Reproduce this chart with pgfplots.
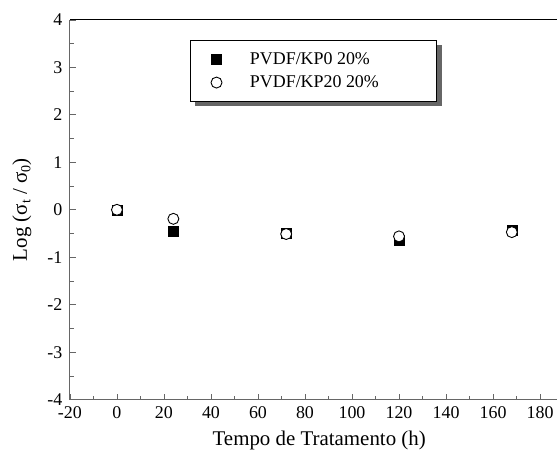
\documentclass[border=0pt]{standalone}
\usepackage{fontspec}
\setmainfont{Liberation Serif}
\usepackage{pgfplots}
\pgfplotsset{compat=1.18}
\usetikzlibrary{shadows}
\begin{document}
\begin{tikzpicture}
\begin{axis}[name=ax, scale only axis, width=487bp, height=380bp,
 xmin=-20, xmax=187, ymin=-4, ymax=4,
 axis x line*=bottom, axis y line*=left,
 axis line style={black!60, line width=1bp, -},
 xtick={-20,0,...,180}, ytick={-4,...,4},
 minor x tick num=1, minor y tick num=1,
 tick align=inside, major tick length=6bp, minor tick length=4bp,
 tick style={black!60, line width=0.8bp},
 /pgf/number format/assume math mode=true,
 tick label style={font=\fontsize{18}{21}\selectfont},
 xticklabel style={yshift=-3bp},
 yticklabel style={xshift=-4bp},
 xlabel={Tempo de Tratamento (h)},
 ylabel={Log (σ\raisebox{-0.35ex}{\fontsize{14}{16}\selectfont t} / σ\raisebox{-0.35ex}{\fontsize{14}{16}\selectfont 0})},
 label style={font=\fontsize{21}{24}\selectfont},
 xlabel style={at={(rel axis cs:0.5,0)}, anchor=center, yshift=-41bp, xshift=6bp},
 ylabel style={at={(rel axis cs:0,0.5)}, anchor=center, yshift=48bp},
 clip=false,
 legend cell align=left,
 legend style={at={(rel axis cs:0.246,0.947)}, anchor=north west,
   draw=black, line width=0.8bp, fill=white,
   drop shadow={shadow xshift=5bp, shadow yshift=-5bp, fill=black!60, opacity=1},
   font=\fontsize{18}{21}\selectfont, inner xsep=21bp, inner ysep=10bp, row sep=6bp,
   /tikz/every odd column/.append style={column sep=26bp}},
]
\addplot[only marks, mark=square*, mark size=5bp, mark options={fill=black, draw=black}]
 coordinates {(0,0) (24,-0.46) (72,-0.49) (120,-0.63) (168,-0.44)};
\addlegendentry{\makebox[164bp][l]{PVDF/KP0 20\%}}
\addplot[only marks, mark=*, mark size=5.5bp, mark options={fill=white, draw=black, line width=0.9bp}]
 coordinates {(0,0) (24,-0.19) (72,-0.51) (120,-0.56) (168,-0.47)};
\addlegendentry{\makebox[164bp][l]{PVDF/KP20 20\%}}
\draw[black, line width=1bp] (rel axis cs:0,1) -- (rel axis cs:1,1);
\end{axis}
\path ([shift={(-70bp,20bp)}]ax.north west) -- ([shift={(0bp,-57bp)}]ax.south east);
\end{tikzpicture}
\end{document}
